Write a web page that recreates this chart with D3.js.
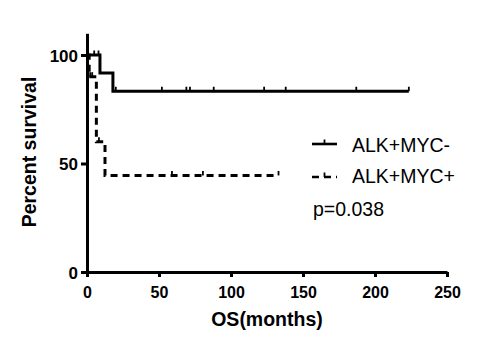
<!DOCTYPE html>
<html>
<head>
<meta charset="utf-8">
<script src="https://cdn.jsdelivr.net/npm/d3@7"></script>
<style>
    body { margin: 0; background: #fff; }
    svg text { font-family: "Liberation Sans", Arial, sans-serif; fill: #000; }
</style>
</head>
<body>
<div id="chart"></div>
<script>
// Kaplan-Meier steps (months, percent survival)
const groups = ["ALK+MYC-", "ALK+MYC+"];
const solidTimes = [0, 9, 18];
const solidSurv = [100, 91.7, 83.3];
const solidEnd = 223.5;
const solidCensor = [5, 8, 20, 52, 69, 71.5, 88, 123, 138, 187, 223.5];

const dashedTimes = [0, 1.5, 6.5, 12.5];
const dashedSurv = [100, 90, 60, 44.5];
const dashedEnd = 133;
const dashedCensor = [2.2, 3.6, 8.3, 59, 80.5, 133];

const xTicks = [0, 50, 100, 150, 200, 250];
const yTicks = [0, 50, 100];
const pText = "p=0.038";

let width = 504, height = 350;

let svg = d3.select("#chart").append("svg")
    .attr("width", width)
    .attr("height", height);

let x = d3.scaleLinear().domain([0, 250]).range([87, 447]);
let y = d3.scaleLinear().domain([0, 110]).range([272, 33.3]);

// step curve points
function steps(times, surv, end) {
    let pts = [];
    times.forEach((t, i) => {
        if (i > 0) pts.push([t, surv[i - 1]]);
        pts.push([t, surv[i]]);
    });
    pts.push([end, surv[surv.length - 1]]);
    return pts;
}

// survival value at time t
function survAt(times, surv, t) {
    let v = surv[0];
    times.forEach((tt, i) => { if (t >= tt) v = surv[i]; });
    return v;
}

let line = d3.line().x(d => x(d[0])).y(d => y(d[1]));

let series = [
    {name: groups[0], times: solidTimes, surv: solidSurv, end: solidEnd, censor: solidCensor, dash: null},
    {name: groups[1], times: dashedTimes, surv: dashedSurv, end: dashedEnd, censor: dashedCensor, dash: "7,5"}
];

series.forEach(s => {
    svg.append("path")
        .datum(steps(s.times, s.surv, s.end))
        .attr("fill", "none")
        .attr("stroke", "#000")
        .attr("stroke-width", 3)
        .attr("stroke-dasharray", s.dash)
        .attr("d", line);

    svg.selectAll(null)
        .data(s.censor)
        .enter().append("line")
        .attr("x1", d => x(d))
        .attr("x2", d => x(d))
        .attr("y1", d => y(survAt(s.times, s.surv, d)))
        .attr("y2", d => y(survAt(s.times, s.surv, d)) - 4.5)
        .attr("stroke", "#000")
        .attr("stroke-width", 1.8);
});

// axes
let xAxis = svg.append("g")
    .attr("transform", "translate(0,272)")
    .call(d3.axisBottom(x).tickValues(xTicks).tickSize(5).tickSizeOuter(0));
xAxis.selectAll("text")
    .attr("y", 26).attr("dy", 0)
    .style("font-size", "16px").style("font-weight", "bold");

let yAxis = svg.append("g")
    .attr("transform", "translate(87,0)")
    .call(d3.axisLeft(y).tickValues(yTicks).tickSize(6).tickSizeOuter(0));
yAxis.selectAll("text")
    .attr("x", -9).attr("dy", "0.36em")
    .style("font-size", "17px").style("font-weight", "bold");

svg.selectAll(".domain").attr("stroke", "#000").attr("stroke-width", 3);
svg.selectAll(".tick line").attr("stroke", "#000").attr("stroke-width", 3);

// axis titles
svg.append("text")
    .attr("x", 267).attr("y", 326)
    .attr("text-anchor", "middle")
    .style("font-size", "19.5px").style("font-weight", "bold")
    .text("OS(months)");

svg.append("text")
    .attr("transform", "translate(36,152) rotate(-90)")
    .attr("text-anchor", "middle")
    .style("font-size", "19.5px").style("font-weight", "bold")
    .text("Percent survival");

// legend
let legendY = [144, 177];
let legendTextY = [152, 183];
series.forEach((s, i) => {
    svg.append("line")
        .attr("x1", 312).attr("x2", 337)
        .attr("y1", legendY[i]).attr("y2", legendY[i])
        .attr("stroke", "#000")
        .attr("stroke-width", 2.6)
        .attr("stroke-dasharray", s.dash);
    svg.append("line")
        .attr("x1", 324.5).attr("x2", 324.5)
        .attr("y1", legendY[i]).attr("y2", legendY[i] - 4.5)
        .attr("stroke", "#000")
        .attr("stroke-width", 1.8);
    svg.append("text")
        .attr("x", 352).attr("y", legendTextY[i])
        .style("font-size", "19.5px")
        .text(s.name);
});

svg.append("text")
    .attr("x", 313).attr("y", 216)
    .style("font-size", "19.5px")
    .text(pText);
</script>
</body>
</html>
